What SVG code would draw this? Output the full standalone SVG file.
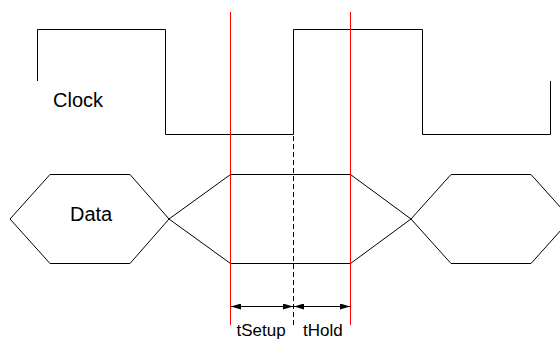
<svg xmlns="http://www.w3.org/2000/svg" width="560" height="340" viewBox="0 0 560 340">
  <defs>
    <style>
      .sig { fill: none; stroke: #000; stroke-width: 1; }
      .mark { fill: none; stroke: #ff0000; stroke-width: 1; }
      .dash { fill: none; stroke: #000; stroke-width: 1; stroke-dasharray: 5 3; }
      .dim { fill: none; stroke: #000; stroke-width: 1; }
      .lbl { font-family: "Liberation Sans", Arial, sans-serif; fill: #000; }
    </style>
    <marker id="ah" viewBox="0 0 10 6" refX="10" refY="3" markerWidth="10" markerHeight="6" markerUnits="userSpaceOnUse" orient="auto-start-reverse">
      <path d="M0,0 L10,3 L0,6 Z" fill="#000"/>
    </marker>
  </defs>
  <rect width="560" height="340" fill="#fff"/>

  <!-- clock waveform -->
  <g id="clock">
    <path class="sig" d="M37.5,81 V29.5 H165.5 V134.5 H293.5 V29.5 H422.5 V134.5 H550.5 V81"/>
    <text class="lbl" x="53" y="107" font-size="20">Clock</text>
  </g>

  <!-- data bus waveform -->
  <g id="data">
    <path class="sig" d="M10,219 L50,174.5 H130 L169,219 L130,263.5 H50 Z"/>
    <path class="sig" d="M169,219 L230.5,174.5 H350.5 L411,219 L350.5,263.5 H230.5 Z"/>
    <path class="sig" d="M411,219 L451,174.5 H531 L571,219 L531,263.5 H451 Z"/>
    <text class="lbl" x="70" y="221" font-size="20">Data</text>
  </g>

  <!-- timing markers -->
  <g id="markers">
    <line class="mark" x1="230.5" y1="12" x2="230.5" y2="325"/>
    <line class="mark" x1="350.5" y1="12" x2="350.5" y2="325"/>
    <line class="dash" x1="293.5" y1="80" x2="293.5" y2="326"/>
  </g>

  <!-- setup / hold dimensions -->
  <g id="connectors">
    <line class="dim" x1="231" y1="306.5" x2="293" y2="306.5" marker-start="url(#ah)" marker-end="url(#ah)"/>
    <line class="dim" x1="294" y1="306.5" x2="350" y2="306.5" marker-start="url(#ah)" marker-end="url(#ah)"/>
  </g>

  <g id="labels">
    <text class="lbl" x="236.5" y="336" font-size="17">tSetup</text>
    <text class="lbl" x="303" y="336" font-size="17">tHold</text>
  </g>
</svg>
